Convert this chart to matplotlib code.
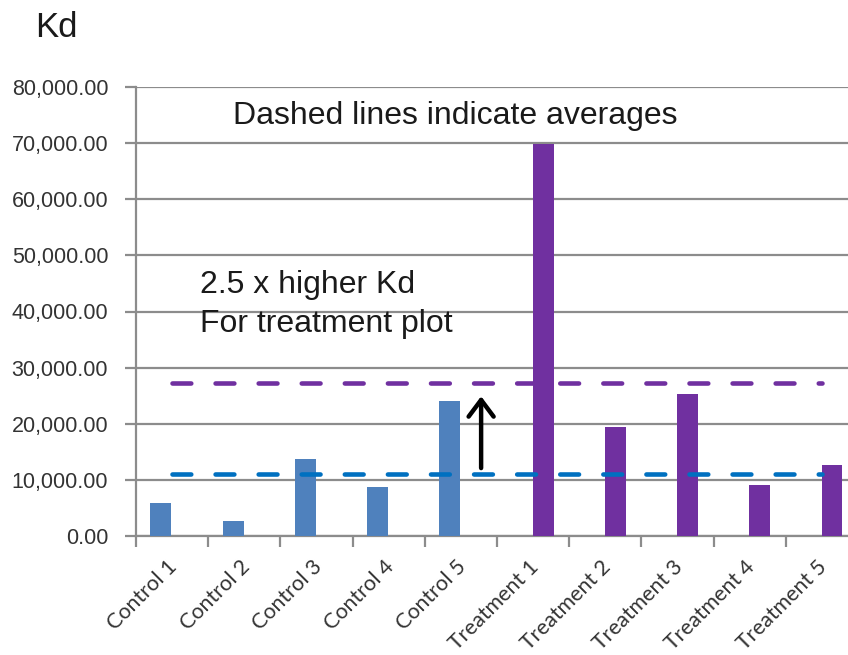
import matplotlib
matplotlib.use("Agg")
import matplotlib.pyplot as plt
import matplotlib.transforms as mtransforms
import numpy as np

# values
categories = ["Control 1", "Control 2", "Control 3", "Control 4", "Control 5",
              "Treatment 1", "Treatment 2", "Treatment 3", "Treatment 4", "Treatment 5"]
control_kd = [5900, 2700, 13700, 8700, 24100]
treatment_kd = [69900, 19400, 25300, 9100, 12700]
y_ticks = [0, 10000, 20000, 30000, 40000, 50000, 60000, 70000, 80000]

CONTROL_BAR = "#4F81BD"
TREAT_BAR = "#7030A0"
CONTROL_AVG = "#0070C0"
GRID = "#8C8C8C"
TEXT = "#1a1a1a"

plt.rcParams.update({"font.family": ["Liberation Sans", "DejaVu Sans"]})

fig = plt.figure(figsize=(8.48, 6.55), dpi=100)
ax = fig.add_axes([136 / 848, 119 / 655, 722 / 848, 449 / 655])

x = np.arange(len(categories))
n_c = len(control_kd)
w = 0.29
ax.bar(x[:n_c] - 0.155, control_kd, width=w, color=CONTROL_BAR, zorder=3)
ax.bar(x[n_c:] + 0.14, treatment_kd, width=w, color=TREAT_BAR, zorder=3)

# averages as dashed lines across all categories
ctrl_mean = np.mean(control_kd)
treat_mean = np.mean(treatment_kd)
for val, col in [(treat_mean, TREAT_BAR), (ctrl_mean, CONTROL_AVG)]:
    ax.plot([x[0], x[-1]], [val, val], color=col, lw=3.3,
            dashes=(4.1, 5.3), dash_capstyle="round", zorder=4)

# arrow from control avg up to treatment avg
ax.annotate("", xy=(4.28, 24900), xytext=(4.28, 12100),
            arrowprops=dict(arrowstyle="->,head_length=0.6,head_width=0.45",
                            mutation_scale=20, color="black", lw=3.2,
                            shrinkA=0, shrinkB=0), zorder=5)

ax.text(0.386, 43300, "2.5 x higher Kd", fontsize=23, va="baseline",
        ha="left", color=TEXT)
ax.text(0.386, 36400, "For treatment plot", fontsize=23, va="baseline",
        ha="left", color=TEXT)
ax.text(0.84, 73400, "Dashed lines indicate averages", fontsize=23,
        va="baseline", ha="left", color=TEXT)

ax.set_xlim(-0.5, 9.5)
ax.set_ylim(0, 80000)
ax.set_yticks(y_ticks)
ax.set_yticklabels([f"{v:,.2f}" for v in y_ticks], fontsize=15.5, color="#333333")
ax.yaxis.grid(True, color=GRID, lw=1.6, zorder=0)
ax.set_axisbelow(True)

ax.set_xticks(x)
ax.set_xticklabels(categories, rotation=45, ha="right", va="top",
                   rotation_mode="anchor", fontsize=15.5, color="#333333",
                   family=["Lato", "DejaVu Sans"])
ax.tick_params(axis="x", length=0, pad=15)
# nudge the rotated labels a little to the left
shift = mtransforms.ScaledTranslation(-5 / 100, 0, fig.dpi_scale_trans)
for lbl in ax.get_xticklabels():
    lbl.set_transform(lbl.get_transform() + shift)
ax.set_xticks(np.arange(-0.5, 10, 1), minor=True)
ax.tick_params(axis="x", which="minor", length=8, width=1.6, color=GRID)
ax.tick_params(axis="y", length=8, width=1.6, color=GRID, pad=12)

for side in ["top", "right"]:
    ax.spines[side].set_visible(False)
for side in ["left", "bottom"]:
    ax.spines[side].set_color(GRID)
    ax.spines[side].set_linewidth(1.6)

fig.text(35 / 848, 1 - 37 / 655, "Kd", fontsize=25, va="baseline", ha="left",
         color=TEXT)

fig.savefig("out.png", dpi=100)
